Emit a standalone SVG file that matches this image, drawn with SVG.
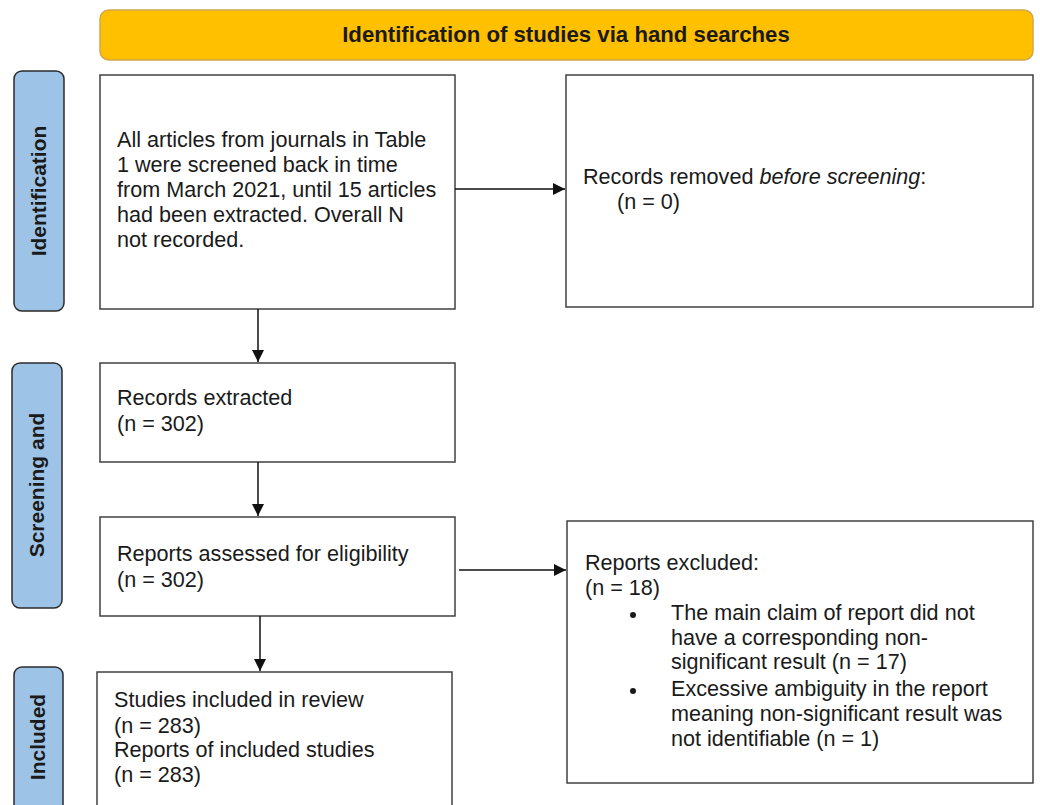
<svg xmlns="http://www.w3.org/2000/svg" width="1040" height="805" viewBox="0 0 1040 805">
<defs>
<style>
.box{fill:#fff;stroke:#404040;stroke-width:1.5}
.side{fill:#9DC3E6;stroke:#2b2b2b;stroke-width:1.5}
.t{font-family:"Liberation Sans",Arial,sans-serif;font-size:21.6px;fill:#1a1a1a}
.sl{font-family:"Liberation Sans",Arial,sans-serif;font-size:21px;font-weight:bold;fill:#1a1a1a;text-anchor:middle}
.c{stroke:#111;stroke-width:1.5;fill:none}
</style>
<marker id="ah" markerWidth="12" markerHeight="12" refX="12" refY="6" orient="auto" markerUnits="userSpaceOnUse">
<path d="M0,0 L12,6 L0,12 Z" fill="#111"/>
</marker>
</defs>
<rect width="1040" height="805" fill="#fff"/>
<g id="banner">
<rect x="100" y="10" width="933" height="50" rx="9" fill="#FFC000" stroke="#D4A64A" stroke-width="1.5"/>
<text x="566" y="42" class="sl" style="font-size:22.2px">Identification of studies via hand searches</text>
</g>
<g id="lane-identification">
<rect x="14" y="71" width="50" height="240" rx="8" class="side"/>
<text class="sl" transform="translate(46,191) rotate(-90)">Identification</text>
</g>
<g id="lane-screening">
<rect x="12" y="363" width="50" height="245" rx="8" class="side"/>
<text class="sl" transform="translate(44,485) rotate(-90)">Screening and</text>
</g>
<g id="lane-included">
<rect x="14" y="667" width="49" height="160" rx="8" class="side"/>
<text class="sl" transform="translate(45,737) rotate(-90)">Included</text>
</g>
<g id="box-articles">
<rect x="100" y="75" width="355" height="234" class="box"/>
<text class="t"><tspan x="117" y="147">All articles from journals in Table</tspan><tspan x="117" y="172">1 were screened back in time</tspan><tspan x="117" y="197">from March 2021, until 15 articles</tspan><tspan x="117" y="222">had been extracted. Overall N</tspan><tspan x="117" y="247">not recorded.</tspan></text>
</g>
<g id="box-removed">
<rect x="566" y="75" width="467" height="232" class="box"/>
<text class="t"><tspan x="583" y="184">Records removed <tspan font-style="italic">before screening</tspan>:</tspan><tspan x="617" y="209">(n = 0)</tspan></text>
</g>
<g id="box-extracted">
<rect x="100" y="363" width="355" height="99" class="box"/>
<text class="t"><tspan x="117" y="405">Records extracted</tspan><tspan x="117" y="431">(n = 302)</tspan></text>
</g>
<g id="box-assessed">
<rect x="100" y="517" width="355" height="99" class="box"/>
<text class="t"><tspan x="117" y="561">Reports assessed for eligibility</tspan><tspan x="117" y="587">(n = 302)</tspan></text>
</g>
<g id="box-excluded">
<rect x="567" y="521" width="466" height="262" class="box"/>
<text class="t"><tspan x="585" y="570">Reports excluded:</tspan><tspan x="585" y="595">(n = 18)</tspan><tspan x="671" y="620">The main claim of report did not</tspan><tspan x="671" y="645">have a corresponding non-</tspan><tspan x="671" y="669">significant result (n = 17)</tspan><tspan x="671" y="696">Excessive ambiguity in the report</tspan><tspan x="671" y="721">meaning non-significant result was</tspan><tspan x="671" y="746">not identifiable (n = 1)</tspan></text>
<circle cx="633" cy="615" r="3" fill="#1a1a1a"/>
<circle cx="633" cy="691" r="3" fill="#1a1a1a"/>
</g>
<g id="box-included">
<rect x="97" y="672" width="355" height="160" class="box"/>
<text class="t"><tspan x="114" y="707">Studies included in review</tspan><tspan x="114" y="733">(n = 283)</tspan><tspan x="114" y="757">Reports of included studies</tspan><tspan x="114" y="782">(n = 283)</tspan></text>
</g>
<g id="connectors">
<line x1="455" y1="189" x2="565" y2="189" class="c" marker-end="url(#ah)"/>
<line x1="258" y1="309" x2="258" y2="362" class="c" marker-end="url(#ah)"/>
<line x1="258" y1="462" x2="258" y2="516" class="c" marker-end="url(#ah)"/>
<line x1="459" y1="570" x2="566" y2="570" class="c" marker-end="url(#ah)"/>
<line x1="260" y1="616" x2="260" y2="671" class="c" marker-end="url(#ah)"/>
</g>
</svg>
